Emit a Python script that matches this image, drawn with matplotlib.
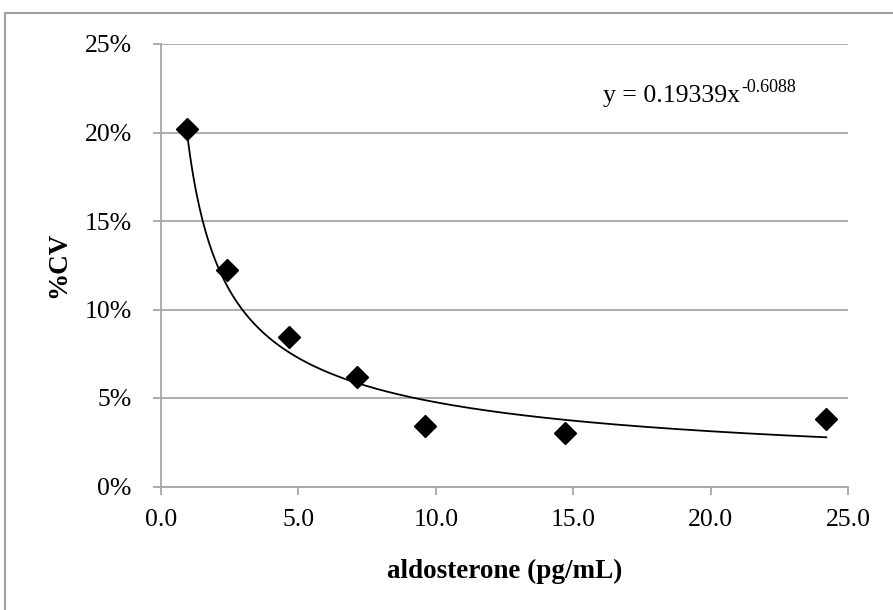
import numpy as np
import matplotlib
matplotlib.use("Agg")
import matplotlib.pyplot as plt
from matplotlib.patches import Rectangle
from matplotlib.ticker import FuncFormatter

# data
aldosterone = [0.93, 2.39, 4.67, 7.12, 9.6, 14.69, 24.21]
cv_percent = [20.18, 12.23, 8.43, 6.20, 3.42, 3.04, 3.81]
fit_a = 0.19339
fit_b = -0.6088
x_ticks = [0, 5, 10, 15, 20, 25]
y_ticks = [0, 5, 10, 15, 20, 25]

plt.rcParams['font.family'] = ['Liberation Serif', 'DejaVu Serif']

W, H = 893, 610
fig = plt.figure(figsize=(W/100, H/100), dpi=100)
ax = fig.add_axes([161/W, 1-486.5/H, (848-161)/W, (486.5-44)/H])

grid_c = '#a6a6a6'
ax.set_xlim(0, 25)
ax.set_ylim(0, 25)
ax.set_xticks(x_ticks)
ax.set_yticks(y_ticks)
ax.xaxis.set_major_formatter(FuncFormatter(lambda v, p: f"{v:.1f}"))
ax.yaxis.set_major_formatter(FuncFormatter(lambda v, p: f"{v:.0f}%"))
ax.grid(axis='y', color=grid_c, lw=1.3)
ax.set_axisbelow(True)
for s in ['top', 'right']:
    ax.spines[s].set_visible(False)
for s in ['left', 'bottom']:
    ax.spines[s].set_color(grid_c)
    ax.spines[s].set_linewidth(1.3)
ax.tick_params(axis='both', direction='out', length=6, width=1.3, color=grid_c,
               labelsize=18.5, labelcolor='black')
ax.tick_params(axis='x', pad=10)
ax.tick_params(axis='y', pad=15)

xf = np.linspace(min(aldosterone), max(aldosterone), 400)
yf = fit_a * xf ** fit_b * 100
ax.plot(xf, yf, color='black', lw=1.3, zorder=3)
ax.plot(aldosterone, cv_percent, linestyle='none', marker='D', markersize=11,
        color='black', zorder=4)

fig.text(505/W, 1-578/H, 'aldosterone (pg/mL)', fontsize=19.5, fontweight='bold',
         ha='center', va='baseline')
fig.text(59/W, 1-265/H, '%CV', fontsize=19.5, fontweight='bold', rotation=90,
         ha='center', va='center')

t1 = fig.text(603/W, 1-102/H, 'y = 0.19339x', fontsize=18.5, ha='left', va='baseline')
ax.annotate('-0.6088', xy=(1, H-92), xycoords=(t1, 'figure pixels'),
            xytext=(1, 0), textcoords='offset points',
            fontsize=13, ha='left', va='baseline')

fig.patches.append(Rectangle((5/W, -0.2), 2, 1.2 - 13/H, transform=fig.transFigure,
                             fill=False, ec='#a0a0a0', lw=1.5))

fig.savefig('out.png', dpi=100)
